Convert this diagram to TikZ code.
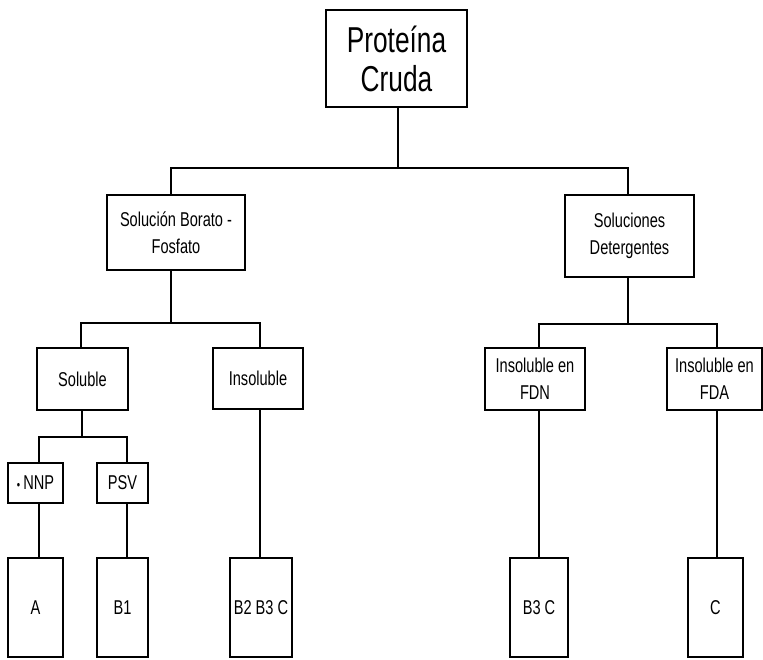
\documentclass[tikz,border=0pt]{standalone}
\usepackage{fontspec}
\setmainfont[FakeStretch=0.73]{Liberation Sans}
\begin{document}
\begin{tikzpicture}[x=1pt,y=-1pt,
  box/.style={draw=black, line width=2.8pt, fill=white, inner sep=0pt, align=center,
    font=\fontsize{20}{27}\selectfont},
  link/.style={draw=black, line width=2.4pt}]
\useasboundingbox (0,0) rectangle (763,659);
% nodes
\node[box, minimum width=141, minimum height=97, font=\fontsize{36}{39}\selectfont] (top) at (396.5,58.5) {Proteína\\Cruda};
\node[box, minimum width=138, minimum height=75] (sbf) at (176,232.5) {Solución Borato -\\Fosfato};
\node[box, minimum width=129, minimum height=82] (sd) at (629.5,236) {Soluciones\\Detergentes};
\node[box, minimum width=91, minimum height=62] (sol) at (82.5,379) {Soluble};
\node[box, minimum width=90, minimum height=61] (ins) at (258,378.5) {Insoluble};
\node[box, minimum width=100, minimum height=62] (fdn) at (535,379) {Insoluble en\\FDN};
\node[box, minimum width=95, minimum height=62] (fda) at (714.5,379) {Insoluble en\\FDA};
\node[box, minimum width=55, minimum height=40] (nnp) at (35.5,483) {{\fontsize{13}{13}\selectfont •}\,NNP};
\node[box, minimum width=51, minimum height=40] (psv) at (122.5,483) {PSV};
\node[box, minimum width=55, minimum height=99] (a) at (35.5,607.5) {A};
\node[box, minimum width=51, minimum height=99] (b1) at (122.5,607.5) {B1};
\node[box, minimum width=62, minimum height=99] (b2) at (261,607.5) {B2 B3 C};
\node[box, minimum width=58, minimum height=99] (b3) at (539,607.5) {B3 C};
\node[box, minimum width=55, minimum height=99] (c) at (715.5,607.5) {C};
% junction coordinates
\coordinate (j1) at (398,168);
\coordinate (j2) at (171,323);
\coordinate (j3) at (628,324);
\coordinate (j4) at (82,437);
% connectors
\path[link] (top.south -| j1) -- (j1);
\path[link] ([xshift=-5pt]sbf.north) |- (j1) -| ([xshift=-1.5pt]sd.north);
\path[link] (sbf.south -| j2) -- (j2);
\path[link] ([xshift=-1.5pt]sol.north) |- (j2) -| ([xshift=2pt]ins.north);
\path[link] (sd.south -| j3) -- (j3);
\path[link] ([xshift=4pt]fdn.north) |- (j3) -| ([xshift=2.5pt]fda.north);
\path[link] (sol.south -| j4) -- (j4);
\path[link] ([xshift=3.5pt]nnp.north) |- (j4) -| ([xshift=4.5pt]psv.north);
\path[link] ([xshift=3.5pt]nnp.south) -- ([xshift=3.5pt]a.north);
\path[link] ([xshift=4.5pt]psv.south) -- ([xshift=4.5pt]b1.north);
\path[link] ([xshift=2pt]ins.south) -- ([xshift=-1pt]b2.north);
\path[link] ([xshift=4pt]fdn.south) -- (b3.north);
\path[link] ([xshift=2.5pt]fda.south) -- ([xshift=1.5pt]c.north);
\end{tikzpicture}
\end{document}
